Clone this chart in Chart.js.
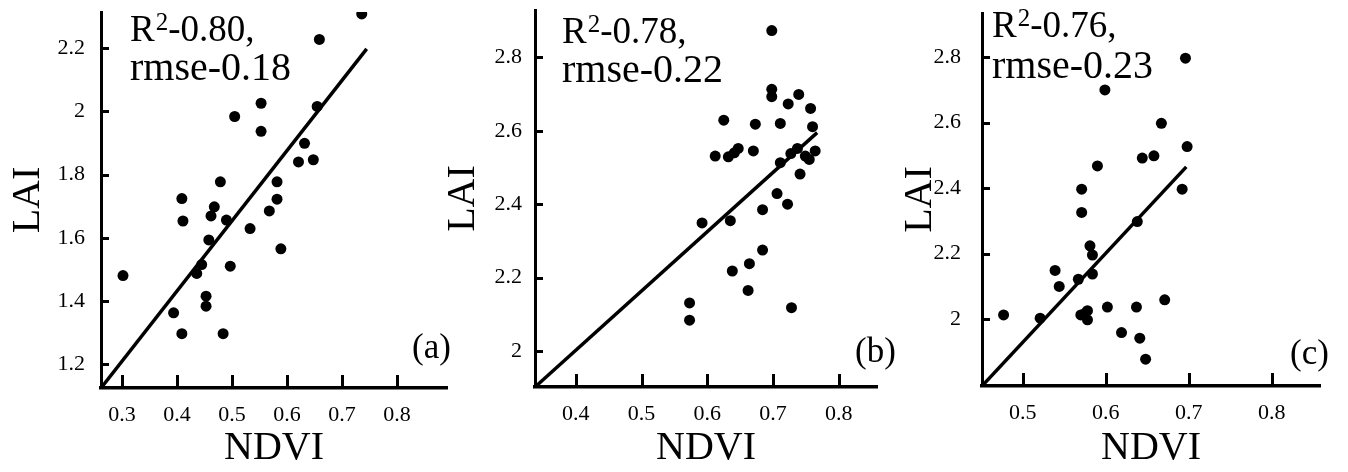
<!DOCTYPE html>
<html>
<head>
<meta charset="utf-8">
<script src="https://cdn.jsdelivr.net/npm/chart.js@4.4.1/dist/chart.umd.min.js"></script>
<style>
  body { margin: 0; background: #fff; width: 1348px; height: 472px; position: relative; overflow: hidden; }
  canvas { position: absolute; top: 0; }
</style>
</head>
<body>
<canvas id="chartA" width="452" height="472" style="left:0px"></canvas>
<canvas id="chartB" width="460" height="472" style="left:436px"></canvas>
<canvas id="chartC" width="456" height="472" style="left:892px"></canvas>
<script>
// (a)
const ndviA = [0.302, 0.394, 0.409, 0.409, 0.411, 0.436, 0.445, 0.453, 0.453, 0.458, 0.462, 0.468, 0.479, 0.484, 0.490,
  0.497, 0.505, 0.533, 0.553, 0.553, 0.568, 0.582, 0.582, 0.589, 0.621, 0.632, 0.648, 0.655, 0.659, 0.736];
const laiA = [1.48, 1.362, 1.296, 1.724, 1.653, 1.487, 1.515, 1.415, 1.383, 1.593, 1.669, 1.698, 1.777, 1.296, 1.656,
  1.51, 1.984, 1.629, 2.026, 1.937, 1.685, 1.777, 1.722, 1.565, 1.84, 1.899, 1.847, 2.016, 2.228, 2.309];
const fitXA = [0.262, 0.745];
const fitYA = [1.124, 2.198];
const xTicksA = [0.3, 0.4, 0.5, 0.6, 0.7, 0.8];
const yTicksA = [1.2, 1.4, 1.6, 1.8, 2.0, 2.2];

// (b)
const ndviB = [0.573, 0.573, 0.592, 0.612, 0.625, 0.632, 0.635, 0.638, 0.641, 0.647, 0.662, 0.664, 0.670, 0.673, 0.684,
  0.684, 0.698, 0.698, 0.698, 0.706, 0.711, 0.711, 0.722, 0.723, 0.727, 0.728, 0.739, 0.741, 0.737, 0.749, 0.755, 0.757,
  0.760, 0.764];
const laiB = [2.131, 2.084, 2.349, 2.531, 2.629, 2.529, 2.355, 2.218, 2.54, 2.552, 2.165, 2.238, 2.545, 2.618, 2.385,
  2.275, 2.873, 2.713, 2.693, 2.429, 2.62, 2.513, 2.4, 2.673, 2.538, 2.118, 2.699, 2.482, 2.552, 2.531, 2.522, 2.661,
  2.611, 2.545];
const fitXB = [0.338, 0.767];
const fitYB = [1.902, 2.595];
const xTicksB = [0.4, 0.5, 0.6, 0.7, 0.8];
const yTicksB = [2.0, 2.2, 2.4, 2.6, 2.8];

// (c)
const ndviC = [0.477, 0.521, 0.539, 0.544, 0.567, 0.571, 0.571, 0.570, 0.575, 0.578, 0.578, 0.581, 0.584, 0.584, 0.590,
  0.599, 0.602, 0.619, 0.637, 0.638, 0.641, 0.644, 0.648, 0.658, 0.667, 0.671, 0.692, 0.696, 0.698];
const laiC = [2.013, 2.003, 2.149, 2.1, 2.122, 2.397, 2.326, 2.013, 2.018, 2.026, 1.998, 2.224, 2.196, 2.138, 2.468,
  2.7, 2.037, 1.959, 2.037, 2.298, 1.942, 2.492, 1.878, 2.499, 2.598, 2.059, 2.397, 2.797, 2.527];
const fitXC = [0.451, 0.697];
const fitYC = [1.796, 2.465];
const xTicksC = [0.5, 0.6, 0.7, 0.8];
const yTicksC = [2.0, 2.2, 2.4, 2.6, 2.8];

const r2Values = ['0.80', '0.78', '0.76'];
const rmseValues = ['0.18', '0.22', '0.23'];
const panelLabels = ['(a)', '(b)', '(c)'];

const SERIF = '"Liberation Serif", "Times New Roman", serif';
Chart.defaults.font.family = SERIF;
Chart.defaults.color = '#000';

// inward tick marks, the R2 / rmse text and the panel letter
const panelDecor = {
  id: 'panelDecor',
  afterDraw(chart, args, opts) {
    const { ctx, chartArea } = chart;
    const xs = chart.scales.x;
    const ys = chart.scales.y;
    ctx.save();
    ctx.fillStyle = '#000';
    xs.ticks.forEach((t, i) => {
      ctx.fillRect(Math.round(xs.getPixelForTick(i)) - 1, chartArea.bottom - 13, 3, 14);
    });
    ys.ticks.forEach((t, i) => {
      ctx.fillRect(chartArea.left, Math.round(ys.getPixelForTick(i)) - 1, 8, 3);
    });

    ctx.textBaseline = 'alphabetic';
    let x = opts.textX;
    ctx.font = `37px ${SERIF}`;
    ctx.fillText('R', x, opts.line1Y);
    x += ctx.measureText('R').width + 1;
    ctx.font = `25px ${SERIF}`;
    ctx.fillText('2', x, opts.line1Y - 11);
    x += ctx.measureText('2').width;
    ctx.font = `37px ${SERIF}`;
    ctx.fillText(`-${opts.r2},`, x, opts.line1Y);
    ctx.font = `40px ${SERIF}`;
    ctx.fillText(`rmse-${opts.rmse}`, opts.textX, opts.line2Y);
    ctx.font = `35px ${SERIF}`;
    ctx.fillText(opts.label, opts.labelX, opts.labelY);
    ctx.restore();
  },
};

function makePanel(id, ndvi, lai, fitX, fitY, xTicks, yTicks, cfg) {
  const points = ndvi.map((v, i) => ({ x: v, y: lai[i] }));
  const fit = fitX.map((v, i) => ({ x: v, y: fitY[i] }));
  return new Chart(document.getElementById(id), {
    type: 'scatter',
    data: {
      datasets: [
        {
          data: points,
          backgroundColor: '#000',
          borderColor: '#000',
          pointRadius: 5.5,
          pointBorderWidth: 0,
        },
        {
          type: 'line',
          data: fit,
          borderColor: '#000',
          borderWidth: 3.5,
          pointRadius: 0,
          fill: false,
        },
      ],
    },
    options: {
      responsive: false,
      animation: false,
      layout: { autoPadding: false, padding: { left: 0, top: cfg.top, right: cfg.right, bottom: 0 } },
      plugins: {
        legend: { display: false },
        tooltip: { enabled: false },
        panelDecor: cfg.text,
      },
      scales: {
        x: {
          type: 'linear',
          min: cfg.xMin,
          max: cfg.xMax,
          afterBuildTicks: (s) => { s.ticks = xTicks.map((v) => ({ value: v })); },
          afterFit: (s) => { s.height = cfg.xHeight; s.paddingLeft = 0; s.paddingRight = 0; },
          ticks: { font: { family: SERIF, size: 22 }, padding: 14, maxRotation: 0, callback: (v) => String(v) },
          grid: { display: false, drawTicks: false },
          border: { display: true, color: '#000', width: 3.5 },
          title: { display: true, text: 'NDVI', font: { family: SERIF, size: 40 }, padding: { top: 0, bottom: 0 } },
        },
        y: {
          type: 'linear',
          min: cfg.yMin,
          max: cfg.yMax,
          afterBuildTicks: (s) => { s.ticks = yTicks.map((v) => ({ value: v })); },
          // tick padding also pads the top/bottom of the plot; drop that
          afterFit: (s) => { s.width = cfg.yWidth; s.paddingTop = 0; s.paddingBottom = 0; },
          ticks: { font: { family: SERIF, size: 22 }, padding: cfg.yPad, callback: (v) => String(Math.round(v * 10) / 10) },
          grid: { display: false, drawTicks: false },
          border: { display: true, color: '#000', width: 3 },
          title: { display: true, text: 'LAI', font: { family: SERIF, size: 40 }, padding: { top: cfg.yTitlePad, bottom: 0 } },
        },
      },
    },
    plugins: [panelDecor],
  });
}

makePanel('chartA', ndviA, laiA, fitXA, fitYA, xTicksA, yTicksA, {
  top: 12, right: 5, xHeight: 84, yWidth: 101, yPad: 16, yTitlePad: 4,
  xMin: 0.262, xMax: 0.891, yMin: 1.124, yMax: 2.315,
  text: { r2: r2Values[0], rmse: rmseValues[0], label: panelLabels[0], textX: 130, line1Y: 41, line2Y: 80, labelX: 412, labelY: 358 },
});

makePanel('chartB', ndviB, laiB, fitXB, fitYB, xTicksB, yTicksB, {
  top: 10, right: 19, xHeight: 85, yWidth: 99, yPad: 13, yTitlePad: 3,
  xMin: 0.338, xMax: 0.858, yMin: 1.902, yMax: 2.929,
  text: { r2: r2Values[1], rmse: rmseValues[1], label: panelLabels[1], textX: 126, line1Y: 43, line2Y: 82, labelX: 419, labelY: 362 },
});

makePanel('chartC', ndviC, laiC, fitXC, fitYC, xTicksC, yTicksC, {
  top: 13, right: 28, xHeight: 86, yWidth: 90, yPad: 21, yTitlePad: 4,
  xMin: 0.451, xMax: 0.858, yMin: 1.796, yMax: 2.935,
  text: { r2: r2Values[2], rmse: rmseValues[2], label: panelLabels[2], textX: 100, line1Y: 37, line2Y: 78, labelX: 398, labelY: 364 },
});
</script>
</body>
</html>
